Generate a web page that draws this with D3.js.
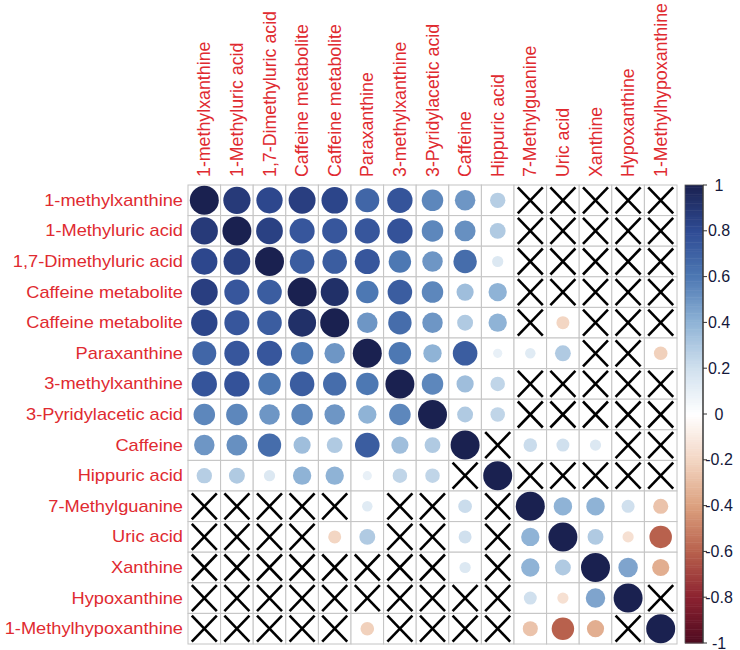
<!DOCTYPE html>
<html>
<head>
<meta charset="utf-8">
<script src="https://cdn.jsdelivr.net/npm/d3@7"></script>
<style>
  body { margin: 0; background: #fff; }
  svg { display: block; }
  text { font-family: "Liberation Sans", Arial, sans-serif; }
</style>
</head>
<body>
<svg id="chart" width="740" height="650"></svg>
<script>
// variable names (rows and columns share the same order)
const labels = [
  "1-methylxanthine", "1-Methyluric acid", "1,7-Dimethyluric acid",
  "Caffeine metabolite", "Caffeine metabolite", "Paraxanthine",
  "3-methylxanthine", "3-Pyridylacetic acid", "Caffeine", "Hippuric acid",
  "7-Methylguanine", "Uric acid", "Xanthine", "Hypoxanthine",
  "1-Methylhypoxanthine"
]

// correlation matrix, null = not significant (drawn as a cross)
const corr = [
  [1, 0.88, 0.82, 0.86, 0.83, 0.68, 0.76, 0.55, 0.5, 0.28, null, null, null, null, null],
  [0.88, 1, 0.85, 0.75, 0.75, 0.75, 0.77, 0.55, 0.52, 0.3, null, null, null, null, null],
  [0.82, 0.85, 1, 0.72, 0.72, 0.75, 0.6, 0.5, 0.65, 0.15, null, null, null, null, null],
  [0.86, 0.75, 0.72, 1, 0.93, 0.6, 0.72, 0.55, 0.35, 0.4, null, null, null, null, null],
  [0.83, 0.75, 0.72, 0.93, 1, 0.5, 0.65, 0.5, 0.3, 0.4, null, -0.2, null, null, null],
  [0.68, 0.75, 0.75, 0.6, 0.5, 1, 0.6, 0.4, 0.72, 0.1, 0.13, 0.3, null, null, -0.22],
  [0.76, 0.77, 0.6, 0.72, 0.65, 0.6, 1, 0.55, 0.35, 0.25, null, null, null, null, null],
  [0.55, 0.55, 0.5, 0.55, 0.5, 0.4, 0.55, 1, 0.3, 0.25, null, null, null, null, null],
  [0.5, 0.52, 0.65, 0.35, 0.3, 0.72, 0.35, 0.3, 1, null, 0.22, 0.2, 0.15, null, null],
  [0.28, 0.3, 0.15, 0.4, 0.4, 0.1, 0.25, 0.25, null, 1, null, null, null, null, null],
  [null, null, null, null, null, 0.13, null, null, 0.22, null, 1, 0.4, 0.4, 0.2, -0.27],
  [null, null, null, null, -0.2, 0.3, null, null, 0.2, null, 0.4, 1, 0.3, -0.15, -0.6],
  [null, null, null, null, null, null, null, null, 0.15, null, 0.4, 0.3, 1, 0.45, -0.35],
  [null, null, null, null, null, null, null, null, null, null, 0.2, -0.15, 0.45, 1, null],
  [null, null, null, null, null, -0.22, null, null, null, null, -0.27, -0.6, -0.35, null, 1]
]

// colour bar ticks
const barTicks = [1, 0.8, 0.6, 0.4, 0.2, 0, -0.2, -0.4, -0.6, -0.8, -1]

const colStops = [-1, -0.8, -0.6, -0.4, -0.2, 0, 0.2, 0.4, 0.6, 0.8, 1]
const colValues = ["#4e0b20", "#8c2230", "#b8614d", "#dca17f", "#f3d6c3", "#ffffff",
                   "#d0e0ee", "#8fb3d6", "#4d78b3", "#2f4b94", "#1a2150"]

const svg = d3.select("#chart")
const n = labels.length

const x = d3.scaleBand().domain(d3.range(n)).range([188, 677])
const y = d3.scaleBand().domain(d3.range(n)).range([185, 644])
const color = d3.scaleLinear().domain(colStops).range(colValues).interpolate(d3.interpolateRgb)
const rad = d3.scaleSqrt().domain([0, 1]).range([0, 14.5])

const cells = []
corr.forEach((row, i) => row.forEach((v, j) => cells.push({i, j, v})))

// grid
const grid = svg.append("g")
grid.selectAll("rect").data(cells).join("rect")
  .attr("x", d => x(d.j))
  .attr("y", d => y(d.i))
  .attr("width", x.bandwidth())
  .attr("height", y.bandwidth())
  .attr("fill", "white")
  .attr("stroke", "#c4c4c4")
  .attr("stroke-width", 1)

// circles
svg.append("g").selectAll("circle").data(cells.filter(d => d.v !== null)).join("circle")
  .attr("cx", d => x(d.j) + x.bandwidth() / 2)
  .attr("cy", d => y(d.i) + y.bandwidth() / 2)
  .attr("r", d => rad(Math.abs(d.v)))
  .attr("fill", d => color(d.v))

// crosses for insignificant cells
const hx = 12.5, hy = 13
const crosses = svg.append("g").attr("stroke", "black").attr("stroke-width", 2.6)
cells.filter(d => d.v === null).forEach(d => {
  const cx = x(d.j) + x.bandwidth() / 2
  const cy = y(d.i) + y.bandwidth() / 2
  crosses.append("line").attr("x1", cx - hx).attr("y1", cy - hy).attr("x2", cx + hx).attr("y2", cy + hy)
  crosses.append("line").attr("x1", cx - hx).attr("y1", cy + hy).attr("x2", cx + hx).attr("y2", cy - hy)
})

// row labels
svg.append("g").selectAll("text").data(labels).join("text")
  .attr("transform", (d, i) => `translate(183,${y(i) + y.bandwidth() / 2}) scale(1.14,1)`)
  .attr("text-anchor", "end")
  .attr("dominant-baseline", "central")
  .attr("font-size", "16px")
  .attr("fill", "#e02a30")
  .text(d => d)

// column labels
svg.append("g").selectAll("text").data(labels).join("text")
  .attr("transform", (d, i) => `translate(${x(i) + x.bandwidth() / 2},177) rotate(-90)`)
  .attr("text-anchor", "start")
  .attr("dominant-baseline", "central")
  .attr("font-size", "17.8px")
  .attr("fill", "#e02a30")
  .text(d => d)

// colour legend
const barY = d3.scaleLinear().domain([-1, 1]).range([643, 185])
const bar = svg.append("g")
const steps = d3.range(-1, 1, 0.01)
bar.selectAll("rect").data(steps).join("rect")
  .attr("x", 685)
  .attr("y", d => barY(d + 0.01))
  .attr("width", 18)
  .attr("height", d => barY(d) - barY(d + 0.01) + 0.5)
  .attr("fill", d => color(d + 0.005))
bar.append("rect")
  .attr("x", 685).attr("y", 185).attr("width", 18).attr("height", 458)
  .attr("fill", "none").attr("stroke", "#555").attr("stroke-width", 0.8)
bar.append("line")
  .attr("x1", 703).attr("x2", 703).attr("y1", 185).attr("y2", 643)
  .attr("stroke", "#333").attr("stroke-width", 1.2)
bar.selectAll(".tick").data(barTicks).join("line")
  .attr("class", "tick")
  .attr("x1", 703).attr("x2", 707)
  .attr("y1", d => barY(d)).attr("y2", d => barY(d))
  .attr("stroke", "#333")
bar.selectAll("text").data(barTicks).join("text")
  .attr("x", 719)
  .attr("y", d => barY(d))
  .attr("text-anchor", "middle")
  .attr("dominant-baseline", "central")
  .attr("font-size", "16px")
  .attr("fill", "#14183a")
  .text(d => d)
</script>
</body>
</html>
